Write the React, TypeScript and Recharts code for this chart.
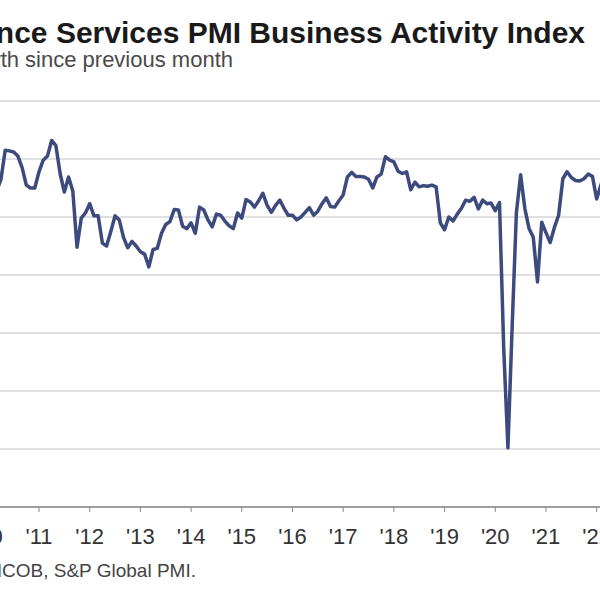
import { LineChart, Line, XAxis, YAxis, CartesianGrid } from "recharts"

// France services PMI, business activity index, monthly, Jan 2010 onward
const pmi2010 = [52.0, 53.0, 54.5, 56.5, 61.5, 61.4, 61.2, 60.5, 58.5, 55.5, 55.0, 55.0]
const pmi2011 = [57.8, 59.8, 60.5, 63.2, 62.3, 57.5, 54.3, 56.9, 54.5, 44.8, 49.8, 50.7]
const pmi2012 = [52.3, 50.2, 50.2, 45.5, 45.0, 47.5, 50.2, 49.5, 46.5, 44.7, 45.8, 45.0]
const pmi2013 = [44.0, 43.6, 41.4, 44.4, 44.6, 47.2, 48.7, 49.2, 51.3, 51.2, 48.4, 48.0]
const pmi2014 = [49.0, 47.2, 51.7, 51.2, 49.5, 48.3, 50.5, 50.3, 49.3, 48.5, 48.0, 50.7]
const pmi2015 = [49.8, 53.0, 52.6, 51.7, 52.8, 54.1, 52.0, 50.8, 52.0, 52.9, 51.5, 50.3]
const pmi2016 = [50.3, 49.5, 50.0, 50.8, 51.6, 50.3, 51.0, 52.3, 53.3, 51.8, 51.7, 52.8]
const pmi2017 = [53.8, 56.9, 57.7, 57.0, 57.0, 56.9, 56.5, 55.0, 56.9, 57.4, 60.4, 59.8]
const pmi2018 = [59.5, 57.9, 57.5, 57.8, 54.7, 56.0, 55.2, 55.4, 55.3, 55.5, 55.2, 49.0]
const pmi2019 = [47.8, 50.0, 49.3, 50.5, 51.5, 52.9, 52.7, 53.4, 51.4, 52.9, 52.3, 52.4]
const pmi2020 = [51.1, 52.5, 27.4, 10.2, 31.1, 50.7, 57.3, 51.5, 48.0, 46.5, 38.8, 49.1]
const pmi2021 = [47.3, 45.6, 48.2, 50.3, 56.6, 57.8, 56.8, 56.3, 56.2, 56.6, 57.4, 57.0]
const pmi2022 = [53.1, 55.5, 57.4, 58.9, 58.3, 53.9]

const years = [2010, 2011, 2012, 2013, 2014, 2015, 2016, 2017, 2018, 2019, 2020, 2021, 2022]
const yearValues = [
  pmi2010, pmi2011, pmi2012, pmi2013, pmi2014, pmi2015, pmi2016,
  pmi2017, pmi2018, pmi2019, pmi2020, pmi2021, pmi2022,
]
const tickLabels = ["'10", "'11", "'12", "'13", "'14", "'15", "'16", "'17", "'18", "'19", "'20", "'21", "'22"]
const yTicks = [0, 10, 20, 30, 40, 50, 60, 70]

// t = months since Jan 2010
const data = years.flatMap((year, yi) =>
  yearValues[yi].map((v, m) => ({ t: yi * 12 + m, month: `${year}-${m + 1}`, value: v }))
)
const xTicks = tickLabels.map((_, i) => i * 12)

const font = '"Liberation Sans", Arial, sans-serif'

export default function App() {
  return (
    <div
      style={{
        position: "fixed",
        left: 0,
        top: 0,
        width: 600,
        height: 599,
        overflow: "hidden",
        background: "#fff",
        fontFamily: font,
      }}
    >
      <div style={{ position: "absolute", left: -60, top: 0 }}>
        <LineChart width={720} height={599} data={data} margin={{ top: 101, right: 38, bottom: 52, left: 48.3 }}>
          <CartesianGrid vertical={false} stroke="#d6d6d6" strokeWidth={1.5} />
          <YAxis hide domain={[0, 70]} ticks={yTicks} />
          <XAxis
            type="number"
            dataKey="t"
            domain={[0, 150]}
            ticks={xTicks}
            tickFormatter={(v) => tickLabels[Math.round(v / 12)]}
            interval={0}
            height={40}
            tickSize={5}
            tickMargin={16}
            tick={{ fill: "#333", fontSize: 22, fontFamily: font }}
            axisLine={{ stroke: "#8a8a8a", strokeWidth: 1.5 }}
            tickLine={{ stroke: "#8a8a8a" }}
          />
          <Line
            type="linear"
            dataKey="value"
            stroke="#3d4a7e"
            strokeWidth={3.5}
            strokeLinejoin="round"
            dot={false}
            isAnimationActive={false}
          />
        </LineChart>
      </div>
      <svg width={600} height={599} style={{ position: "absolute", left: 0, top: 0, pointerEvents: "none" }}>
        <text x={585} y={43} textAnchor="end" fontSize={30} fontWeight="bold" fill="#1a1a1a" fontFamily={font}>
          HCOB France Services PMI Business Activity Index
        </text>
        <text x={233} y={67} textAnchor="end" fontSize={22} fill="#4a4a4a" fontFamily={font}>
          sa, &gt;50 = growth since previous month
        </text>
        <text x={196} y={577} textAnchor="end" fontSize={19} fill="#444" fontFamily={font}>
          Sources: HCOB, S&amp;P Global PMI.
        </text>
      </svg>
    </div>
  )
}
